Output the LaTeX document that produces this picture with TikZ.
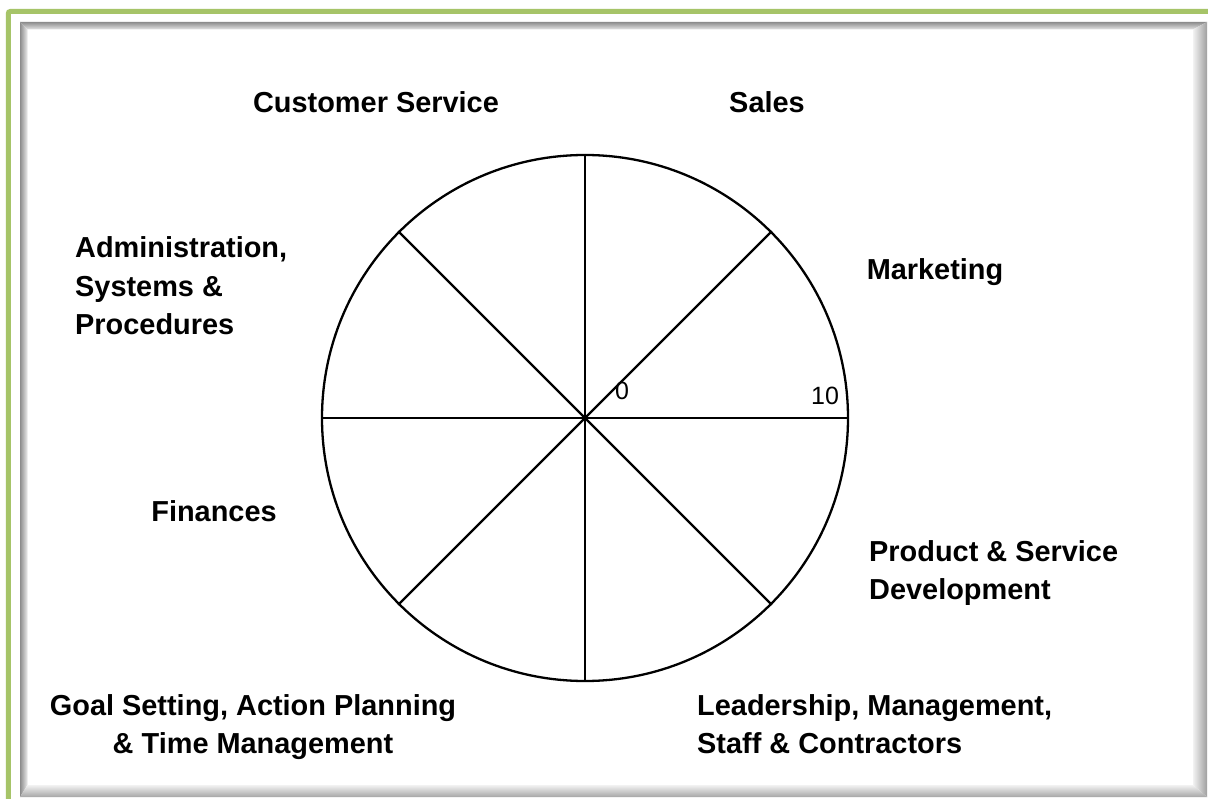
\documentclass[tikz,border=0pt]{standalone}
\usepackage{fontspec}
\setmainfont{Liberation Sans}
\begin{document}
\begin{tikzpicture}[x=1pt,y=-1pt,
  label/.style={font=\fontsize{28.9}{38.5}\selectfont\bfseries, inner sep=0pt},
  scalemark/.style={font=\fontsize{25}{29}\selectfont, inner sep=0pt},
  spoke/.style={line width=2.3pt, black},
  wheelbox/.style={circle, draw=black, line width=2.3pt, minimum size=526pt, inner sep=0pt}]
  \useasboundingbox (0,0) rectangle (1208,799);
  \fill[white] (0,0) rectangle (1208,799);
  % green outer rule, top and left
  \draw[line width=5pt, color={rgb,255:red,166;green,196;blue,104}, rounded corners=2pt]
    (8.3,799) -- (8.3,11.5) -- (1208,11.5);
  % bevelled grey frame
  \shade[top color=gray!90, bottom color=gray!20]
    (20,22) -- (1207,22) -- (1193,29.5) -- (27.5,29.5) -- cycle;
  \shade[left color=gray!90, right color=gray!15]
    (20,22) -- (27.5,29.5) -- (27.5,785) -- (20,797) -- cycle;
  \shade[left color=gray!10, right color=gray!75]
    (1193,29.5) -- (1207,22) -- (1207,797) -- (1193,785) -- cycle;
  \shade[top color=gray!10, bottom color=gray!70]
    (27.5,785) -- (1193,785) -- (1207,797) -- (20,797) -- cycle;
  % the wheel
  \node[wheelbox] (wheel) at (585,418) {};
  \draw[spoke] (wheel.north) -- (wheel.south);
  \draw[spoke] (wheel.east) -- (wheel.west);
  \draw[spoke] (wheel.45) -- (wheel.225);
  \draw[spoke] (wheel.135) -- (wheel.315);
  \node[scalemark] (zero) at (622,391) {0};
  \node[scalemark] (ten) at (825,396) {10};
  % segment labels
  \node[label] (cust) at (376,102) {Customer Service};
  \node[label] (sales) at (767,102) {Sales};
  \node[label] (mkt) at (935,272) {Marketing};
  \node[label, align=left, anchor=west] (admin) at (75,286) {Administration,\\Systems \&\\Procedures};
  \node[label] (fin) at (214,511) {Finances};
  \node[label, align=left, anchor=west] (prod) at (869,573) {Product \& Service\\Development};
  \node[label, align=center] (goal) at (253,727) {Goal Setting, Action Planning\\\& Time Management};
  \node[label, align=left, anchor=west] (lead) at (697,724) {Leadership, Management,\\Staff \& Contractors};
\end{tikzpicture}
\end{document}
